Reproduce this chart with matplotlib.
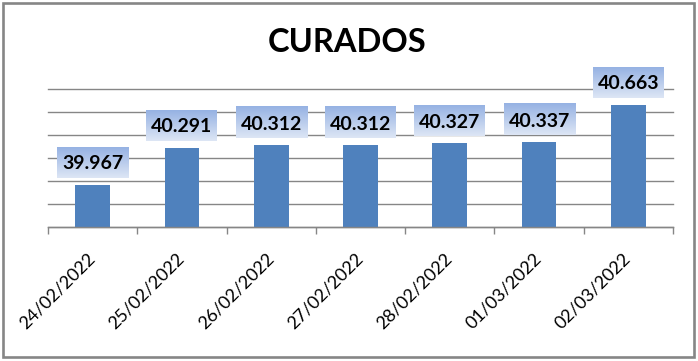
import numpy as np
import matplotlib
matplotlib.use("Agg")
import matplotlib.pyplot as plt
from matplotlib.patches import Rectangle
from matplotlib.colors import LinearSegmentedColormap

# ---- data ----
categories = ["24/02/2022", "25/02/2022", "26/02/2022", "27/02/2022",
              "28/02/2022", "01/03/2022", "02/03/2022"]
values = [39967, 40291, 40312, 40312, 40327, 40337, 40663]
value_labels = ["39.967", "40.291", "40.312", "40.312", "40.327", "40.337", "40.663"]
title = "CURADOS"
y_min, y_max, y_step = 39600, 40800, 200

W, H = 698, 361
plt.rcParams['font.family'] = ['Lato', 'DejaVu Sans']
fig = plt.figure(figsize=(W / 100, H / 100), dpi=100)
fig.patch.set_facecolor("white")

# outer border
fig.patches.append(Rectangle((3 / W, 4 / H), 691 / W, 354 / H, transform=fig.transFigure,
                             fill=False, edgecolor="#868686", linewidth=1.9, zorder=10))

ax = fig.add_axes([48 / W, 134 / H, 625 / W, 138 / H])
x = np.arange(len(categories))
ax.bar(x, values, width=0.39, color="#4F81BD", zorder=2)
ax.set_xlim(-0.5, len(categories) - 0.5)
ax.set_ylim(y_min, y_max)
ax.set_yticks(np.arange(y_min, y_max + 1, y_step))
ax.yaxis.grid(True, color="#868686", linewidth=1.0, zorder=0)
ax.set_axisbelow(True)
for gl in ax.get_ygridlines():
    gl.set_clip_on(False)
ax.tick_params(axis='y', left=False, labelleft=False)
for s in ["left", "right", "top"]:
    ax.spines[s].set_visible(False)
ax.spines["bottom"].set_color("#868686")
ax.spines["bottom"].set_linewidth(1.0)

ax.set_xticks(x)
ax.set_xticklabels(categories, rotation=45, ha="right", va="center",
                   rotation_mode="anchor", fontsize=13, color="black")
ax.tick_params(axis='x', which='major', length=0, pad=21)
ax.set_xticks(np.arange(-0.5, len(categories)), minor=True)
ax.tick_params(axis='x', which='minor', length=5, color="#868686", width=1.0)

fig.text(0.497, 0.881, title, ha="center", va="center", fontsize=23.5,
         fontweight="bold", color="black")

# data labels with gradient boxes
cmap = LinearSegmentedColormap.from_list("lbl", ["#DDE6F5", "#96B2E3"])
grad = np.linspace(0, 1, 64).reshape(-1, 1)
inv = ax.transData.inverted()
for i, v in enumerate(values):
    xd, yd = ax.transData.transform((x[i], v))
    (x0, y0) = inv.transform((xd - 35.5, yd + 7))
    (x1, y1) = inv.transform((xd + 35.5, yd + 38))
    ax.imshow(grad, extent=[x0, x1, y0, y1], origin="lower", cmap=cmap,
              aspect="auto", clip_on=False, zorder=3, interpolation="bilinear")
    ax.text((x0 + x1) / 2, (y0 + y1) / 2, value_labels[i], ha="center", va="center_baseline",
            fontsize=14, fontweight="bold", color="black", zorder=4, clip_on=False)

ax.set_xlim(-0.5, len(categories) - 0.5)
ax.set_ylim(y_min, y_max)

fig.savefig("out.png", dpi=100)
